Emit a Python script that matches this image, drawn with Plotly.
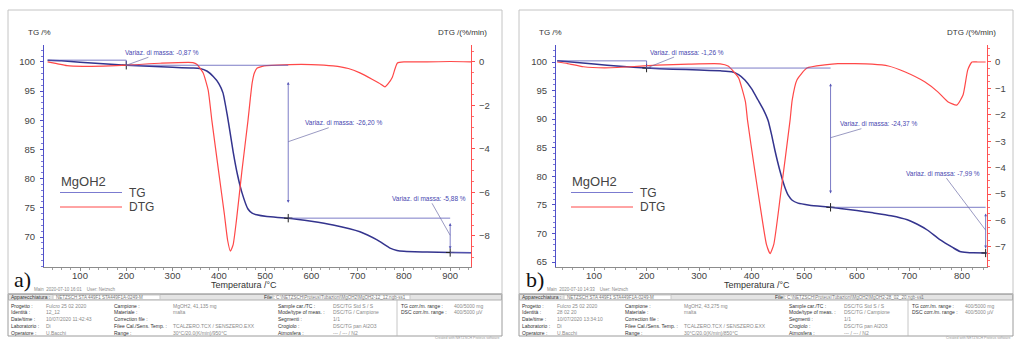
import numpy as np
import plotly.graph_objects as go

# ------------------------------------------------------------------ data
# panel a)  TG curve (temperature °C, mass %)
T_TG_A = [30, 60, 100, 150, 200, 250, 300, 340, 359, 375, 388, 400, 409, 418, 424, 431, 440, 450,
          463, 472, 482, 504, 550, 600, 647, 705, 742, 770, 785, 800, 850, 900, 945]
TG_A = [100.3, 100.2, 99.95, 99.68, 99.43, 99.25, 99.08, 98.95, 98.88, 98.4, 97.5, 96.3, 94.7, 91.0,
        88.1, 84.6, 80.8, 77.6, 74.8, 74.1, 73.8, 73.5, 73.23, 72.7, 72.06, 70.9, 69.5, 68.1, 67.7,
        67.55, 67.42, 67.35, 67.3]
# panel a)  DTG curve (temperature °C, %/min)
T_DTG_A = [30, 50, 72, 106, 165, 215, 273, 344, 353, 366, 377, 385, 400, 412, 419, 425, 431, 438,
           450, 463, 468, 472, 477, 483, 494, 504, 554, 600, 647, 680, 705, 734, 750, 759, 766, 775,
           781, 786, 800, 850, 900, 945]
DTG_A = [0.0, -0.08, -0.17, -0.2, -0.18, -0.13, -0.06, -0.03, -0.12, -0.5, -1.3, -2.7, -5.1, -7.0,
         -8.2, -8.7, -8.4, -7.3, -5.0, -2.7, -1.7, -0.97, -0.5, -0.28, -0.2, -0.17, -0.12, -0.12,
         -0.18, -0.3, -0.5, -0.83, -1.02, -1.15, -1.0, -0.7, -0.3, -0.05, 0.0, 0.0, 0.02, 0.0]

# panel b)  TG curve
T_TG_B = [30, 100, 150, 200, 250, 300, 340, 362, 375, 387, 400, 412, 422, 431, 438, 444, 453, 463,
          470, 477, 488, 510, 550, 568, 600, 631, 665, 696, 715, 734, 758, 783, 796, 810, 821, 845]
TG_B = [100.2, 99.65, 99.25, 98.94, 98.75, 98.6, 98.45, 98.3, 97.8, 96.85, 95.3, 93.35, 91.7, 89.8,
        87.2, 84.6, 81.2, 78.1, 76.6, 75.8, 75.3, 74.95, 74.57, 74.35, 74.0, 73.6, 73.1, 72.4, 71.6,
        70.6, 68.9, 67.5, 66.85, 66.65, 66.6, 66.58]
# panel b)  DTG curve
T_DTG_B = [30, 50, 80, 120, 170, 220, 280, 340, 355, 365, 375, 388, 392, 405, 418, 428, 435, 442,
           455, 473, 477, 486, 505, 539, 564, 629, 660, 691, 729, 754, 773, 790, 802, 811, 819, 830, 845]
DTG_B = [0.0, -0.06, -0.18, -0.22, -0.18, -0.12, -0.08, -0.07, -0.15, -0.35, -0.6, -1.5, -2.2, -4.0,
         -5.7, -6.9, -7.25, -6.9, -5.0, -2.2, -1.44, -0.68, -0.23, -0.11, -0.06, -0.08, -0.15, -0.37,
         -0.75, -1.13, -1.5, -1.63, -1.25, -0.3, 0.0, 0.0, 0.0]

# mass-change steps (temperatures of the markers, value in %)
STEP_T_A = [200, 550, 900]
MASS_A = ["-0,87", "-26,20", "-5,88"]
STEP_T_B = [200, 550, 845]
MASS_B = ["-1,26", "-24,37", "-7,99"]

# ticks
X_TICKS_A = [100, 200, 300, 400, 500, 600, 700, 800, 900]
X_TICKS_B = [100, 200, 300, 400, 500, 600, 700, 800]
TG_TICKS_A = [70, 75, 80, 85, 90, 95, 100]
TG_TICKS_B = [65, 70, 75, 80, 85, 90, 95, 100]
DTG_TICKS_A = [0, -2, -4, -6, -8]
DTG_TICKS_B = [0, -1, -2, -3, -4, -5, -6, -7]

# instrument report table text
T_COL1_LAB = ["Progetto :", "Identità :", "Date/time :", "Laboratorio :", "Operatore :"]
T_COL1_A = ["Fulcro 25 02 2020", "12_12", "10/07/2020 11:42:43", "Di", "U.Bacchi"]
T_COL1_B = ["Fulcro 25 02 2020", "28 02 20", "10/07/2020 13:34:10", "Di", "U.Bacchi"]
T_COL2_LAB = ["Campione :", "Materiale :", "Correction file :", "Filee Cal./Sens. Temp. :", "Range :"]
T_COL2_A = ["MgOH2, 41,135 mg", "malta", "", "TCALZERO.TCX / SENSZERO.EXX", "30°C/20.0(K/min)/950°C"]
T_COL2_B = ["MgOH2, 43,275 mg", "malta", "", "TCALZERO.TCX / SENSZERO.EXX", "30°C/20.0(K/min)/850°C"]
T_COL3_LAB = ["Sample car./TC :", "Mode/type of meas. :", "Segmenti :", "Crogiolo :", "Atmosfera :"]
T_COL3 = ["DSC/TG Std S / S", "DSC/TG / Campione", "1/1", "DSC/TG pan Al2O3", "--- / --- / N2"]
T_COL4_LAB = ["TG corr./m. range :", "DSC corr./m. range :"]
T_COL4 = ["400/5000 mg", "400/5000 µV"]
APPAR = "NETZSCH STA 449F1 STA449F1A-0249-M"
FILE_A = "C:\\NETZSCH\\Proteus\\Tubazioni\\MgOH2\\MgOH2-12_12.ngb-ss1"
FILE_B = "C:\\NETZSCH\\Proteus\\Tubazioni\\MgOH2\\MgOH2-28_02_20.ngb-ss1"
MAIN_A = "Main  2020-07-10 16:01    User: Netzsch"
MAIN_B = "Main  2020-07-10 14:33    User: Netzsch"

# ------------------------------------------------------------------ style / layout
W, H = 1014, 340
FONT = "Liberation Sans, Arial, sans-serif"
SERIF = "Liberation Serif, DejaVu Serif, serif"
TG_COL = "#34348e"
DTG_COL = "#ff4848"
ANN_COL = "#5a5ab8"
LEG_TG = "#7b7bd0"
GRAY = "#9a9a9a"


def px(x):
    return x / W


def py(y):
    return 1 - y / H


fig = go.Figure()

panels = [
    dict(xa="x", ya="y", ya2="y2", T_tg=T_TG_A, tg=TG_A, T_dtg=T_DTG_A, dtg=DTG_A,
         steps=STEP_T_A, mass=MASS_A),
    dict(xa="x2", ya="y3", ya2="y4", T_tg=T_TG_B, tg=TG_B, T_dtg=T_DTG_B, dtg=DTG_B,
         steps=STEP_T_B, mass=MASS_B),
]

for p in panels:
    fig.add_trace(go.Scatter(x=p["T_tg"], y=p["tg"], xaxis=p["xa"], yaxis=p["ya"], mode="lines",
                             line=dict(color=TG_COL, width=1.5, shape="spline", smoothing=0.5),
                             showlegend=False, hoverinfo="skip"))
    fig.add_trace(go.Scatter(x=p["T_dtg"], y=p["dtg"], xaxis=p["xa"], yaxis=p["ya2"], mode="lines",
                             line=dict(color=DTG_COL, width=1.2, shape="spline", smoothing=0.5),
                             showlegend=False, hoverinfo="skip"))

shapes = []
annotations = []


def line_data(xr, yr, x0, y0, x1, y1, color=ANN_COL, width=0.8):
    shapes.append(dict(type="line", xref=xr, yref=yr, x0=x0, y0=y0, x1=x1, y1=y1,
                       line=dict(color=color, width=width)))


def line_px(x0, y0, x1, y1, color=GRAY, width=1):
    shapes.append(dict(type="line", xref="paper", yref="paper", x0=px(x0), y0=py(y0),
                       x1=px(x1), y1=py(y1), line=dict(color=color, width=width)))


def rect_px(x0, y0, x1, y1, color=GRAY, fill="rgba(0,0,0,0)", width=1):
    shapes.append(dict(type="rect", xref="paper", yref="paper", x0=px(x0), y0=py(y0),
                       x1=px(x1), y1=py(y1), line=dict(color=color, width=width),
                       fillcolor=fill, layer="below"))


def txt(x, y, s, size, color="#333", xanchor="left", yanchor="middle", family=FONT):
    annotations.append(dict(x=px(x), y=py(y), xref="paper", yref="paper", text=s, showarrow=False,
                            font=dict(size=size, color=color, family=family),
                            xanchor=xanchor, yanchor=yanchor, borderpad=0))


# mass-change markers, levels, arrows and labels
ann_offsets = [[(36, -13), (55, -19), (-21, -37)],
               [(40, -16), (48, -14), (-43, -57)]]
xmax = [945, 847.6]
for k, p in enumerate(panels):
    xr, yr = p["xa"], p["ya"]
    T0 = p["T_tg"][0]
    lev0 = p["tg"][0]
    levs = [float(np.interp(t, p["T_tg"], p["tg"])) for t in p["steps"]]
    s1, s2, s3 = p["steps"]
    l1, l2, l3 = levs
    # start level bracket
    line_data(xr, yr, T0, lev0, s1, lev0)
    line_data(xr, yr, s1, lev0, s1, l1)
    # level lines
    line_data(xr, yr, s1, l1, s2, l1)
    line_data(xr, yr, s2, l2, s3, l2)
    line_data(xr, yr, s3, l3, xmax[k], l3)
    # step markers
    fig.add_trace(go.Scatter(x=p["steps"], y=levs, xaxis=xr, yaxis=yr, mode="markers",
                             marker=dict(symbol="cross-thin", size=6,
                                         line=dict(color="#222", width=1)),
                             showlegend=False, hoverinfo="skip"))
    # vertical double arrows
    for (ts, top, bot) in [(s2, l1, l2), (s3, l2, l3)]:
        d = 0.1 * (top - bot)
        annotations.append(dict(x=ts, y=bot + d, ax=ts, ay=top - d, xref=xr, yref=yr,
                                axref=xr, ayref=yr, text="", showarrow=True,
                                arrowside="end+start", arrowhead=2, startarrowhead=2,
                                arrowsize=0.7, startarrowsize=0.7, arrowwidth=0.8,
                                arrowcolor=ANN_COL))
    # labels with leader lines
    targets = [(s1, l1), (s2, (l1 + l2) / 2), (s3, (l2 + l3) / 2)]
    for j, ((tx, ty), m) in enumerate(zip(targets, p["mass"])):
        ox, oy = ann_offsets[k][j]
        annotations.append(dict(x=tx, y=ty, xref=xr, yref=yr, ax=ox, ay=oy,
                                text=f"Variaz. di massa: {m} %", showarrow=True,
                                arrowhead=0, arrowwidth=0.7, arrowcolor="#6f6fa8",
                                font=dict(size=6.5, color="#4848b0", family=FONT),
                                standoff=0))

# panel frames, titles, legends, tables
for k, dx in enumerate([0, 511]):
    x0, x1 = 8 + dx, 502 + dx
    rect_px(x0, 10, x1, 294, color="#c4c4c4")
    # axis titles
    txt(27 + dx, 32, "TG /%", 8, "#333")
    txt(488 + dx if k == 0 else 997, 32, "DTG /(%/min)", 8, "#333", xanchor="right")
    txt(244 + dx if k == 0 else 757, 285, "Temperatura /°C", 9, "#333", xanchor="center")
    # legend
    lx = 60 + dx if k == 0 else 571
    txt(lx, 181, "MgOH2", 13, "#444")
    line_px(lx, 192.5, lx + 62, 192.5, color=LEG_TG, width=1)
    line_px(lx, 207, lx + 62, 207, color=DTG_COL, width=1)
    txt(lx + 68, 192.5, "TG", 12, "#444")
    txt(lx + 68, 207, "DTG", 12, "#444")
    # panel letter and footer line
    txt(13 + dx + (0 if k == 0 else 1), 279, "a)" if k == 0 else "b)", 22, "#111", family=SERIF)
    txt(33 + dx + (0 if k == 0 else 2), 289.5, MAIN_A if k == 0 else MAIN_B, 4.5, "#888")
    # table
    ty0, ty1 = 294, 336
    rect_px(x0, ty0, x1, ty1, color="#9c9c9c")
    rect_px(x0 + 0.5, ty0 + 0.5, x1 - 0.5, 300, color="#b0b0b0", fill="#e4e4e4")
    rect_px(53 + dx, 295, 160 + dx, 299.5, color="#c8c8c8", fill="#ffffff")
    rect_px(273 + dx, 295, 410 + dx, 299.5, color="#c8c8c8", fill="#ffffff")
    txt(10 + dx, 297.3, "Apparecchiatura :", 5, "#333")
    txt(55 + dx, 297.3, APPAR, 4.5, "#777")
    txt(263 + dx, 297.3, "File :", 5, "#333")
    txt(275 + dx, 297.3, FILE_A if k == 0 else FILE_B, 4.5, "#777")
    line_px(397 + dx, 300, 397 + dx, ty1, color="#b8b8b8", width=0.8)
    rows = [305.5, 312.3, 319.1, 325.9, 332.5]
    c1v = T_COL1_A if k == 0 else T_COL1_B
    c2v = T_COL2_A if k == 0 else T_COL2_B
    for i, yy in enumerate(rows):
        txt(10 + dx, yy, T_COL1_LAB[i], 5, "#333")
        txt(45 + dx, yy, c1v[i], 5, "#8a8a8a")
        txt(113 + dx, yy, T_COL2_LAB[i], 5, "#333")
        txt(172 + dx, yy, c2v[i], 5, "#8a8a8a")
        txt(277 + dx, yy, T_COL3_LAB[i], 5, "#333")
        txt(332 + dx, yy, T_COL3[i], 5, "#8a8a8a")
        if i < 2:
            txt(400 + dx, yy, T_COL4_LAB[i], 5, "#333")
            txt(453 + dx, yy, T_COL4[i], 5, "#8a8a8a")
    txt(x1 - 2, 337.8, "Created with NETZSCH Proteus software", 3.5, "#999", xanchor="right")

tickfont = dict(size=9.5, color="#444", family=FONT)
xcommon = dict(showline=True, linecolor="#8c8c8c", linewidth=1, ticks="outside", ticklen=3,
               tickcolor="#8c8c8c", showgrid=False, zeroline=False, tickfont=tickfont,
               minor=dict(ticks="outside", ticklen=2, dtick=20, tick0=0, tickcolor="#a0a0a0"),
               ticklabelstandoff=-3, fixedrange=True)
ylcommon = dict(showline=True, linecolor="#5050c8", linewidth=1, ticks="outside", ticklen=3,
                tickcolor="#5050c8", showgrid=False, zeroline=False, tickfont=tickfont,
                minor=dict(ticks="outside", ticklen=2, dtick=1, tick0=0, tickcolor="#7a7ad8"),
                ticklabelstandoff=3)
yrcommon = dict(showline=True, linecolor="#ff5050", linewidth=1, ticks="outside", ticklen=3,
                tickcolor="#ff5050", showgrid=False, zeroline=False, tickfont=tickfont,
                side="right", ticklabelstandoff=2)

fig.update_layout(
    width=W, height=H, margin=dict(l=0, r=0, t=0, b=0),
    paper_bgcolor="white", plot_bgcolor="white", showlegend=False,
    xaxis=dict(domain=[px(44), px(471)], range=[22.2, 945], tickvals=X_TICKS_A, anchor="y",
               **xcommon),
    yaxis=dict(domain=[py(267), py(45)], range=[64.86, 102.9], tickvals=TG_TICKS_A, anchor="x",
               **ylcommon),
    yaxis2=dict(overlaying="y", anchor="x", range=[-9.43, 0.78], tickvals=DTG_TICKS_A,
                minor=dict(ticks="outside", ticklen=2, dtick=0.5, tick0=0, tickcolor="#ff7070"),
                **yrcommon),
    xaxis2=dict(domain=[px(556), px(987)], range=[27.7, 847.6], tickvals=X_TICKS_B, anchor="y3",
                **xcommon),
    yaxis3=dict(domain=[py(267), py(45)], range=[64.125, 102.975], tickvals=TG_TICKS_B,
                anchor="x2", **ylcommon),
    yaxis4=dict(overlaying="y3", anchor="x2", range=[-7.757, 0.643], tickvals=DTG_TICKS_B,
                minor=dict(ticks="outside", ticklen=2, dtick=0.25, tick0=0, tickcolor="#ff7070"),
                **yrcommon),
    shapes=shapes, annotations=annotations,
)

fig.write_html("out.html")
